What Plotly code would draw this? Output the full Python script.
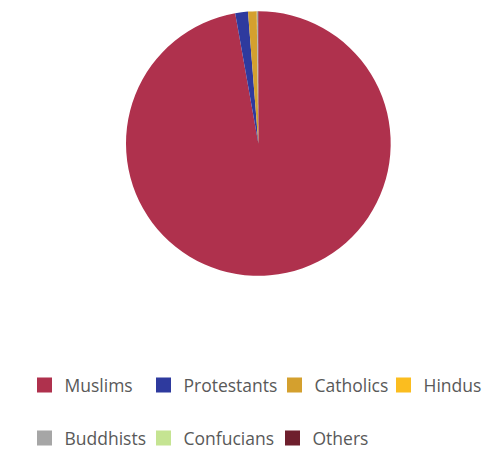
import plotly.graph_objects as go

# Religious composition of the population (percent)
religions = ["Muslims", "Protestants", "Catholics", "Hindus", "Buddhists", "Confucians", "Others"]
shares = [97.2, 1.55, 1.05, 0.02, 0.12, 0.01, 0.05]
colors = ["#AF314D", "#2E3A9E", "#D4A02E", "#FBBD1F", "#A6A6A6", "#C5E492", "#6E1F2D"]

W, H = 483, 449

# Legend layout: swatch centre (px from left) and row centre (px from top) per entry
legend_cx = [47, 166, 297, 406, 47, 166, 295]
legend_cy = [385, 385, 385, 385, 438, 438, 438]
SWATCH_OFFSET = 22.5  # distance from a legend box's left edge to its swatch centre

fig = go.Figure()

fig.add_trace(go.Pie(
    labels=religions,
    values=shares,
    marker=dict(colors=colors, line=dict(width=0)),
    sort=False,
    direction="clockwise",
    rotation=0,
    textinfo="none",
    hoverinfo="label+percent",
    showlegend=False,
    domain=dict(x=[126 / W, 390.7 / W], y=[(H - 276) / H, (H - 11) / H]),
))

legend_font = dict(family="Open Sans", size=17.5, color="#595959")
layout_legends = {}
for i, (name, col) in enumerate(zip(religions, colors)):
    key = "legend" if i == 0 else f"legend{i + 1}"
    fig.add_trace(go.Scatter(
        x=[None], y=[None],
        mode="markers",
        name=name,
        marker=dict(symbol="square", size=15, color=col, line=dict(width=0)),
        hoverinfo="skip",
        legend=key,
    ))
    layout_legends[key] = dict(
        x=(legend_cx[i] - SWATCH_OFFSET) / W,
        xanchor="left",
        y=1 - legend_cy[i] / H,
        yanchor="middle",
        orientation="h",
        bgcolor="rgba(0,0,0,0)",
        borderwidth=0,
        font=legend_font,
    )

fig.update_layout(
    width=W,
    height=H,
    margin=dict(l=0, r=0, t=0, b=0, autoexpand=False),
    paper_bgcolor="white",
    plot_bgcolor="white",
    xaxis=dict(visible=False),
    yaxis=dict(visible=False),
    **layout_legends,
)

fig.write_html("out.html")
